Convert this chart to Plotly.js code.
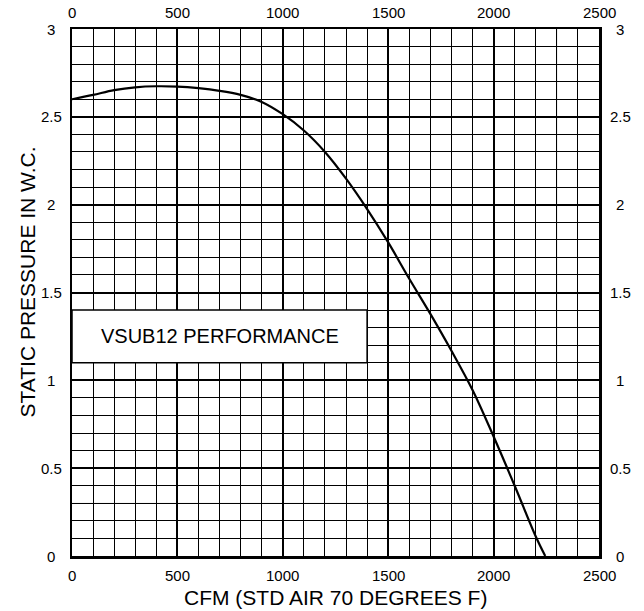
<!DOCTYPE html>
<html>
<head>
<meta charset="utf-8">
<script src="https://cdn.plot.ly/plotly-3.0.1.min.js"></script>
<style>html,body{margin:0;padding:0;background:#fff;}#chart{width:644px;height:611px;}</style>
</head>
<body>
<div id="chart"></div>
<script>
var cfm = [0,100,200,300,400,500,600,700,800,900,1000,1100,1200,1300,1400,1500,1600,1700,1800,1900,2000,2100,2200,2245];
var pressure = [2.60,2.625,2.652,2.668,2.674,2.672,2.663,2.648,2.625,2.585,2.515,2.422,2.30,2.148,1.975,1.785,1.578,1.378,1.168,0.945,0.68,0.40,0.111,0];
var xTicks = [0,500,1000,1500,2000,2500];
var xTickLabels = ['0','500','1000','1500','2000','2500'];
var yTicks = [0,0.5,1,1.5,2,2.5,3];
var yTickLabels = ['0','0.5','1','1.5','2','2.5','3'];
var chartLabel = 'VSUB12 PERFORMANCE';
var xTitle = 'CFM (STD AIR 70 DEGREES F)';
var yTitle = 'STATIC PRESSURE IN W.C.';

var FONT = 'Liberation Sans, Arial, sans-serif';
var ann = [];
xTicks.forEach(function(v,i){
  ann.push({x:v, xref:'x', y:0, yref:'paper', yanchor:'middle', xanchor:'center', yshift:-19, text:xTickLabels[i], showarrow:false, font:{size:15,color:'#000',family:FONT}});
  ann.push({x:v, xref:'x', y:1, yref:'paper', yanchor:'middle', xanchor:'center', yshift:16.5, text:xTickLabels[i], showarrow:false, font:{size:15,color:'#000',family:FONT}});
});
yTicks.forEach(function(v,i){
  ann.push({x:0, xref:'paper', y:v, yref:'y', xanchor:'center', yanchor:'middle', xshift:-21, text:yTickLabels[i], showarrow:false, font:{size:15,color:'#000',family:FONT}});
  ann.push({x:1, xref:'paper', y:v, yref:'y', xanchor:'center', yanchor:'middle', xshift:21, text:yTickLabels[i], showarrow:false, font:{size:15,color:'#000',family:FONT}});
});
ann.push({x:0.5, xref:'paper', y:0, yref:'paper', xanchor:'center', yanchor:'middle', yshift:-41, text:xTitle, showarrow:false, font:{size:21,color:'#000',family:FONT}});
ann.push({x:0, xref:'paper', y:0.519, yref:'paper', xanchor:'center', yanchor:'middle', xshift:-45, textangle:-90, text:yTitle, showarrow:false, font:{size:21,color:'#000',family:FONT}});
ann.push({x:700, xref:'x', y:1.25, yref:'y', xanchor:'center', yanchor:'middle', text:chartLabel, showarrow:false, font:{size:20,color:'#000',family:FONT}});

var data = [{
  x: cfm, y: pressure, type:'scatter', mode:'lines',
  line:{color:'#000', width:2.2, shape:'spline', smoothing:1},
  hoverinfo:'skip'
}];

var axisCommon = {
  showgrid:true, gridcolor:'#000', gridwidth:2,
  showline:true, mirror:true, linecolor:'#000', linewidth:2.5,
  zeroline:false, showticklabels:false, ticks:'', fixedrange:true
};

var layout = {
  width:644, height:611,
  margin:{l:72, r:45, t:29, b:55, pad:0},
  paper_bgcolor:'#fff', plot_bgcolor:'#fff',
  font:{family:FONT, color:'#000'},
  showlegend:false,
  xaxis: Object.assign({}, axisCommon, {range:[0,2500], tickmode:'linear', tick0:0, dtick:500, minor:{showgrid:true, gridcolor:'#000', gridwidth:1, dtick:100}}),
  yaxis: Object.assign({}, axisCommon, {range:[0,3], tickmode:'linear', tick0:0, dtick:0.5, minor:{showgrid:true, gridcolor:'#000', gridwidth:1, dtick:0.1}}),
  shapes:[
    {type:'line', xref:'x', yref:'y', x0:2300, x1:2300, y0:0, y1:3, line:{color:'#cfcfcf', width:1}, layer:'below'},
    {type:'line', xref:'x', yref:'y', x0:0, x1:2500, y0:0.3, y1:0.3, line:{color:'#cfcfcf', width:1}, layer:'below'},
    {type:'rect', xref:'x', yref:'y', x0:0, x1:1400, y0:1.1, y1:1.4, fillcolor:'#fff', line:{color:'#000', width:1.5}, layer:'above'}
  ],
  annotations: ann
};

Plotly.newPlot('chart', data, layout, {displayModeBar:false, staticPlot:true});
</script>
</body>
</html>
